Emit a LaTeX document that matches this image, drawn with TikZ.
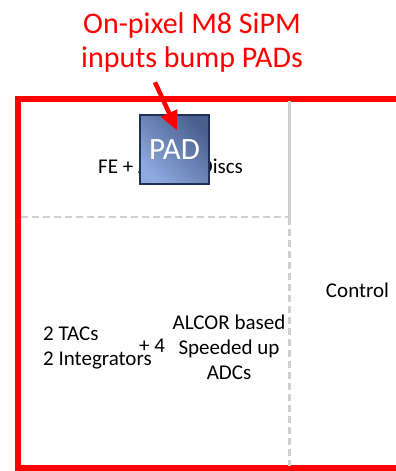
\documentclass[tikz,border=0pt]{standalone}
\usepackage{fontspec}
\setmainfont{Carlito}
\usetikzlibrary{positioning,arrows.meta,calc}
\definecolor{padlight}{HTML}{8EAADF}
\definecolor{paddark}{HTML}{4A5F8E}
\definecolor{padedge}{HTML}{1F3158}
\definecolor{divgray}{HTML}{D0D0D0}

\begin{document}
\begin{tikzpicture}[x=1pt,y=-1pt,
  lbl/.style={font=\fontsize{21}{25}\selectfont,inner sep=0pt},
  headline/.style={font=\fontsize{30}{34}\selectfont,text=red,align=center,inner sep=0pt},
  pixel/.style={draw=red,line width=5.5pt},
  divider/.style={draw=divgray,line width=2.5pt},
  divcut/.style={divider,dash pattern=on 7pt off 4pt},
  padbox/.style={draw=padedge,line width=1.5pt,minimum size=69pt,inner sep=0pt,
                 top color=paddark,bottom color=padlight,shading angle=-45,
                 text=white,font=\fontsize{31}{31}\selectfont},
  flow/.style={-{Triangle[length=19pt,width=17pt]},red,line width=4.5pt},
]
\clip (0,0) rectangle (396,471);
% ---------- pixel outline and sub-blocks ----------
\draw[pixel] (18,99) rectangle (430,468);
\draw[divider] (289.5,101) -- (289.5,218);
\draw[divcut] (289.5,218) -- (289.5,466);
\draw[divcut] (21,217) -- (289.5,217);
% ---------- block texts ----------
\node[lbl,anchor=base west] (fe) at (98,173) {FE + ALCOR Discs};
\node[lbl,anchor=base] (ctrl) at (357.5,297) {Control};
\node[lbl,align=left,anchor=west] (tacs) at (43,348) {2 TACs\\2 Integrators};
\node[lbl,anchor=base west] (plus) at (139,352) {+ 4};
\node[lbl,align=center] (adcs) at (229,347) {ALCOR based\\Speeded up\\ADCs};
% ---------- bump pad and callout ----------
\node[padbox] (pad) at (174.5,149.5) {PAD};
\node[headline] (head) at (192,43) {On-pixel M8 SiPM\\inputs bump PADs};
\coordinate (tip) at ($(pad.north)+(2.5,16)$);
\coordinate (tail) at ($(tip)+(-22,-48)$);
\draw[flow] (tail) -- (tip);
\end{tikzpicture}
\end{document}
